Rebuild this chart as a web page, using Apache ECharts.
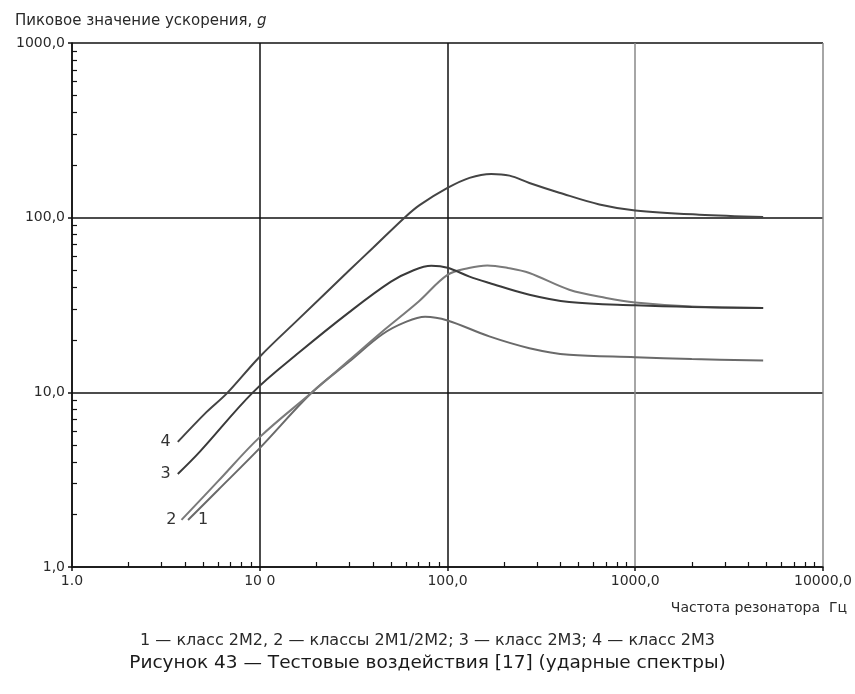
<!DOCTYPE html>
<html><head><meta charset="utf-8">
<script src="https://cdn.jsdelivr.net/npm/echarts@6/dist/echarts.min.js"></script>
<style>html,body{margin:0;padding:0;background:#fff}#c{width:855px;height:694px}</style>
</head><body><div id="c"></div>
<script>
// Curve 4
const freq4 = [3.66, 5.2, 6.7, 10, 16.3, 30, 40, 59, 71, 100, 131, 171, 214, 273, 394, 644, 1000, 2190, 4800];
const val4  = [5.2, 7.7, 9.9, 16, 26.6, 50, 67, 100, 118, 148, 169, 178, 174, 158, 139, 119, 110, 104, 101];
// Curve 3
const freq3 = [3.66, 4.8, 9.2, 16.3, 30, 50, 66, 82, 100, 131, 167, 273, 445, 1000, 2000, 4800];
const val3  = [3.41, 4.58, 10, 17, 28.8, 43, 50, 53, 51.7, 46, 42.3, 36.2, 32.9, 31.5, 30.8, 30.4];
// Curve 2
const freq2 = [3.83, 6, 10, 19, 30, 45, 70, 100, 130, 163, 210, 273, 445, 700, 1000, 2000, 4800];
const val2  = [1.86, 3.1, 5.54, 10, 15.3, 22.3, 33, 47, 51.5, 53.3, 51.5, 48.2, 38.7, 34.7, 32.7, 31, 30.4];
// Curve 1
const freq1 = [4.15, 6, 10, 19, 30, 45, 60, 76, 100, 167, 273, 445, 1000, 2000, 4800];
const val1  = [1.86, 2.76, 4.79, 10, 15.0, 21.5, 25.3, 27.1, 25.8, 20.9, 17.9, 16.4, 15.9, 15.5, 15.2];

const curveNames = ['1', '2', '3', '4'];
const xTickValues = [1, 10, 100, 1000, 10000];
const xTickLabels = ['1.0', '10 0', '100,0', '1000,0', '10000,0'];
const yTickValues = [1, 10, 100, 1000];
const yTickLabels = ['1,0', '10,0', '100,0', '1000,0'];
const minorX = [2,3,4,5,6,7,8,9,20,30,40,50,60,70,80,90,200,300,400,500,600,700,800,900,2000,3000,4000,5000,6000,7000,8000,9000];
const minorY = [2,3,4,5,6,7,8,9,20,30,40,50,60,70,80,90,200,300,400,500,600,700,800,900];

const yTitle = 'Пиковое значение ускорения, ';
const xTitle = 'Частота резонатора  Гц';
const caption1 = '1 — класс 2M2, 2 — классы 2M1/2M2; 3 — класс 2M3; 4 — класс 2M3';
const caption2 = 'Рисунок 43 — Тестовые воздействия [17] (ударные спектры)';

const FONT = 'DejaVu Sans, Verdana, sans-serif';

function mk(fr, vals, name, color, labelPos, dist) {
  const data = fr.map((f, i) => {
    const item = { value: [f, vals[i]] };
    if (i === 0) item.label = { show: true, formatter: name, position: labelPos, distance: dist,
      fontSize: 16, color: '#333', fontFamily: FONT };
    return item;
  });
  return {
    type: 'line', name: name, data: data, smooth: 0.35,
    showSymbol: true, symbolSize: 0, showAllSymbol: true,
    lineStyle: { color: color, width: 2 }, itemStyle: { color: color },
    label: { show: false }, animation: false, z: 5
  };
}

function fmt(vals, labels) { return v => { const i = vals.findIndex(t => Math.abs(t - v) / t < 1e-6); return i >= 0 ? labels[i] : ''; }; }

const chart = echarts.init(document.getElementById('c'), null, { renderer: 'canvas' });
chart.setOption({
  animation: false,
  backgroundColor: '#fff',
  grid: { left: 72, right: 32, top: 43, bottom: 127 },
  title: [
    { text: yTitle + '{i|g}', left: 10, top: 9,
      textStyle: { fontSize: 15, fontWeight: 'normal', color: '#2a2a2a', fontFamily: FONT,
        rich: { i: { fontSize: 15, fontStyle: 'italic', color: '#2a2a2a', fontFamily: FONT } } } },
    { text: xTitle, right: 3, top: 596,
      textStyle: { fontSize: 14, fontWeight: 'normal', color: '#2a2a2a', fontFamily: FONT } },
    { text: caption1, left: 'center', top: 628,
      textStyle: { fontSize: 16, fontWeight: 'normal', color: '#2a2a2a', fontFamily: FONT } },
    { text: caption2, left: 'center', top: 649,
      textStyle: { fontSize: 18.5, fontWeight: 'normal', color: '#1a1a1a', fontFamily: FONT } }
  ],
  xAxis: [
    { type: 'log', logBase: 10, min: 1, max: 10000,
      axisLine: { show: true, lineStyle: { color: '#111', width: 1.5 } },
      axisTick: { show: true, inside: false, length: 4, lineStyle: { color: '#111', width: 1.5 } },
      axisLabel: { show: true, margin: 7, fontSize: 14, color: '#2a2a2a', fontFamily: FONT,
        formatter: fmt(xTickValues, xTickLabels) },
      splitLine: { show: true, lineStyle: { color: ['#111', '#111', '#111', '#888', '#888'], width: 1.5 } } },
    { type: 'log', logBase: 10, min: 1, max: 10000, position: 'bottom',
      axisLine: { show: false },
      axisTick: { show: true, inside: true, length: 5, customValues: minorX, lineStyle: { color: '#111', width: 1.2 } },
      axisLabel: { show: false }, splitLine: { show: false } }
  ],
  yAxis: [
    { type: 'log', logBase: 10, min: 1, max: 1000,
      axisLine: { show: true, lineStyle: { color: '#111', width: 1.5 } },
      axisTick: { show: true, inside: false, length: 4, lineStyle: { color: '#111', width: 1.5 } },
      axisLabel: { show: true, margin: 7, fontSize: 14, color: '#2a2a2a', fontFamily: FONT,
        formatter: fmt(yTickValues, yTickLabels) },
      splitLine: { show: true, lineStyle: { color: '#111', width: 1.5 } } },
    { type: 'log', logBase: 10, min: 1, max: 1000, position: 'left',
      axisLine: { show: false },
      axisTick: { show: true, inside: true, length: 5, customValues: minorY, lineStyle: { color: '#111', width: 1.2 } },
      axisLabel: { show: false }, splitLine: { show: false } }
  ],
  series: [
    mk(freq1, val1, curveNames[0], '#6a6a6a', 'right', 10),
    mk(freq2, val2, curveNames[1], '#7a7a7a', 'left', 5),
    mk(freq3, val3, curveNames[2], '#3a3a3a', 'left', 7),
    mk(freq4, val4, curveNames[3], '#444444', 'left', 7)
  ]
});
</script>
</body></html>
